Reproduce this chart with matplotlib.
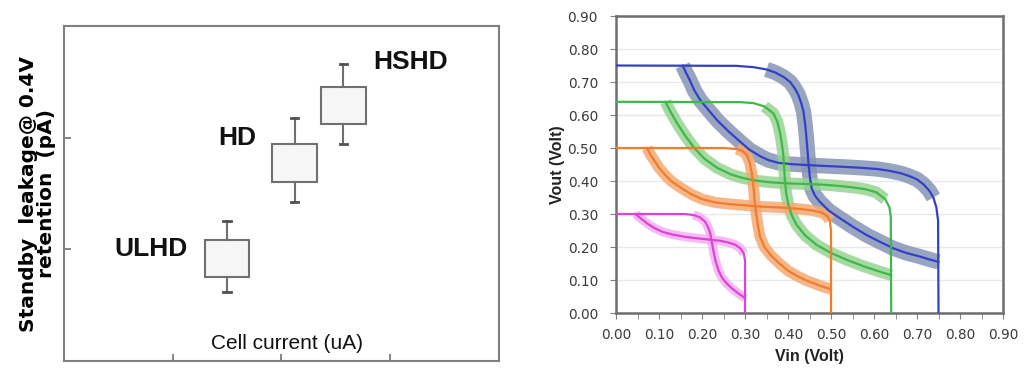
import matplotlib.pyplot as plt
from matplotlib.ticker import MultipleLocator

# left panel: standby leakage vs cell current (box plots, arbitrary units)
cells = ['ULHD', 'HD', 'HSHD']
cell_current = [1.50, 2.12, 2.57]
box_low = [0.75, 1.60, 2.12]
box_high = [1.08, 1.94, 2.45]
whisker_low = [0.62, 1.42, 1.94]
whisker_high = [1.25, 2.18, 2.66]

# right panel: butterfly curves, one VTC per supply, the mirror half is the same curve with axes swapped
vdd = [0.75, 0.64, 0.50, 0.30]
blue_vin = [0.0, 0.28, 0.32, 0.35, 0.37, 0.39, 0.405, 0.416, 0.424, 0.431, 0.436, 0.440, 0.443, 0.446,
            0.448, 0.451, 0.455, 0.463, 0.474, 0.495, 0.521, 0.55, 0.583, 0.615, 0.645, 0.675, 0.707,
            0.73, 0.75]
blue_vout = [0.75, 0.749, 0.745, 0.738, 0.729, 0.715, 0.70, 0.68, 0.661, 0.635, 0.61, 0.57, 0.529, 0.48,
             0.448, 0.41, 0.378, 0.355, 0.337, 0.31, 0.287, 0.262, 0.236, 0.215, 0.196, 0.182, 0.171,
             0.162, 0.155]
green_vin = [0.0, 0.29, 0.32, 0.345, 0.366, 0.375, 0.381, 0.386, 0.389, 0.391, 0.393, 0.396, 0.401,
             0.409, 0.42, 0.44, 0.467, 0.50, 0.537, 0.575, 0.614, 0.64]
green_vout = [0.64, 0.639, 0.636, 0.626, 0.605, 0.58, 0.549, 0.51, 0.479, 0.44, 0.398, 0.36, 0.327,
              0.295, 0.267, 0.235, 0.206, 0.182, 0.161, 0.142, 0.125, 0.115]
orange_vin = [0.0, 0.25, 0.281, 0.295, 0.304, 0.311, 0.316, 0.319, 0.321, 0.323, 0.326, 0.33, 0.335,
              0.345, 0.36, 0.38, 0.40, 0.42, 0.44, 0.46, 0.48, 0.50]
orange_vout = [0.50, 0.50, 0.497, 0.49, 0.479, 0.455, 0.423, 0.39, 0.363, 0.33, 0.302, 0.265, 0.231,
               0.20, 0.175, 0.15, 0.128, 0.113, 0.10, 0.09, 0.08, 0.072]
pink_vin = [0.0, 0.16, 0.18, 0.195, 0.207, 0.214, 0.219, 0.222, 0.226, 0.231, 0.238, 0.246, 0.257,
            0.27, 0.284, 0.30]
pink_vout = [0.30, 0.30, 0.297, 0.29, 0.277, 0.26, 0.242, 0.22, 0.191, 0.16, 0.13, 0.108, 0.09,
             0.074, 0.06, 0.045]

fig = plt.figure(figsize=(10.24, 3.85), dpi=100)

# ---- left panel
ax1 = fig.add_axes([0.0625, 0.0623, 0.4248, 0.8701])
stats = []
for i in range(len(cells)):
    stats.append({'med': box_low[i], 'q1': box_low[i], 'q3': box_high[i],
                  'whislo': whisker_low[i], 'whishi': whisker_high[i], 'fliers': []})
ax1.bxp(stats, positions=cell_current, widths=0.41, patch_artist=True, manage_ticks=False,
        boxprops=dict(facecolor='#f6f6f6', edgecolor='#707070', linewidth=1.5),
        whiskerprops=dict(color='#707070', linewidth=1.5),
        capprops=dict(color='#505050', linewidth=2),
        medianprops=dict(linewidth=0), capwidths=0.07)
ax1.set_xlim(0, 4)
ax1.set_ylim(0, 3)
ax1.set_xticks([1, 2, 3])
ax1.set_yticks([1, 2])
ax1.set_xticklabels([])
ax1.set_yticklabels([])
ax1.tick_params(direction='in', length=5, color='#707070', width=1.2)
for s in ax1.spines.values():
    s.set_color('#808080')
    s.set_linewidth(1.5)

txt = dict(fontsize=19, fontweight='bold', family='Liberation Sans', color='#111111')
ax1.text(cell_current[0] - 0.36, box_high[0] - 0.08, cells[0], ha='right', va='center', **txt)
ax1.text(cell_current[1] - 0.35, box_high[1] + 0.06, cells[1], ha='right', va='center', **txt)
ax1.text(cell_current[2] + 0.27, whisker_high[2] + 0.02, cells[2], ha='left', va='center', **txt)
ax1.text(2.05, 0.16, 'Cell current (uA)', ha='center', va='center', fontsize=15,
         family='Liberation Sans', color='#111111')
ax1.set_ylabel('Standby  leakage@ 0.4V\nretention  (pA)', fontsize=14.5, fontweight='bold',
               family='DejaVu Sans', linespacing=0.95, labelpad=2)

# ---- right panel
ax2 = fig.add_axes([0.6016, 0.187, 0.3779, 0.7714])
# vin, vout, line colour, spread colour, spread width, first point of the spread
families = [(blue_vin, blue_vout, '#3440c8', '#8595b5', 11, 3),
            (green_vin, green_vout, '#3fb84a', '#97d492', 8.5, 3),
            (orange_vin, orange_vout, '#f07c2c', '#f5aa72', 8, 2),
            (pink_vin, pink_vout, '#dd44d6', '#f5b0f1', 6.5, 2)]
for vin, vout, c, band, bw, k in families:
    ax2.plot(vin[k:], vout[k:], color=band, lw=bw, alpha=0.85, solid_capstyle='butt', zorder=2)
    ax2.plot(vout[k:], vin[k:], color=band, lw=bw, alpha=0.85, solid_capstyle='butt', zorder=2)
for vin, vout, c, band, bw, k in families:
    ax2.plot(vin, vout, color=c, lw=1.6, zorder=3)
    ax2.plot(vout, vin, color=c, lw=1.6, zorder=3)

ax2.set_xlim(0, 0.9)
ax2.set_ylim(0, 0.9)
ax2.xaxis.set_major_locator(MultipleLocator(0.1))
ax2.xaxis.set_minor_locator(MultipleLocator(0.05))
ax2.yaxis.set_major_locator(MultipleLocator(0.1))
ax2.xaxis.set_major_formatter(lambda v, p: f'{v:.2f}')
ax2.yaxis.set_major_formatter(lambda v, p: f'{v:.2f}')
ax2.grid(axis='y', color='#e8e8e8', lw=1)
ax2.set_axisbelow(True)
ax2.tick_params(which='both', direction='out', length=4, color='#808080', labelcolor='#3a3a3a',
                labelsize=9.8)
ax2.tick_params(axis='y', pad=9)
ax2.tick_params(axis='x', pad=7)
for s in ax2.spines.values():
    s.set_color('#6e6e6e')
    s.set_linewidth(1.8)
ax2.set_xlabel('Vin (Volt)', fontsize=11.5, fontweight='bold', family='Liberation Sans',
               color='#222222', labelpad=5)
ax2.set_ylabel('Vout (Volt)', fontsize=11.5, fontweight='bold', family='Liberation Sans',
               color='#222222', labelpad=2)

plt.savefig('out.png', dpi=100)
